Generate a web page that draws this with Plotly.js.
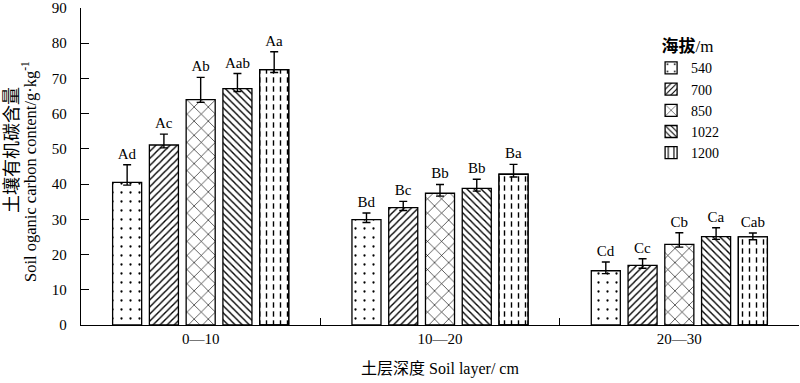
<!DOCTYPE html>
<html><head><meta charset="utf-8">
<script src="https://cdn.plot.ly/plotly-3.0.1.min.js"></script>
<style>body{margin:0;background:#fff}#c{width:800px;height:383px}</style>
</head><body><div id="c"></div>
<script>
const layers = ["0—10", "10—20", "20—30"];
const seriesNames = ["540", "700", "850", "1022", "1200"];
const vals540  = [40.5, 29.9, 15.4];
const vals700  = [51.1, 33.3, 16.9];
const vals850  = [64.0, 37.4, 22.9];
const vals1022 = [67.1, 38.8, 25.1];
const vals1200 = [72.5, 42.8, 25.0];
const err540  = [5.0, 1.9, 2.5];
const err700  = [3.1, 1.8, 1.9];
const err850  = [6.3, 2.5, 3.3];
const err1022 = [4.3, 2.6, 2.5];
const err1200 = [5.1, 2.8, 1.1];
const errMinus = [0.8, 0.8, 0.8];
const lab540  = ["Ad", "Bd", "Cd"];
const lab700  = ["Ac", "Bc", "Cc"];
const lab850  = ["Ab", "Bb", "Cb"];
const lab1022 = ["Aab", "Bb", "Ca"];
const lab1200 = ["Aa", "Ba", "Cab"];

const serif = "Liberation Serif, Times New Roman, Noto Sans CJK SC, serif";
const vals = [vals540, vals700, vals850, vals1022, vals1200];
const errs = [err540, err700, err850, err1022, err1200];
const labs = [lab540, lab700, lab850, lab1022, lab1200];
const patterns = [
  {shape: ".", size: 9, solidity: 0.05},
  {shape: "/", size: 5, solidity: 0.28},
  {shape: "x", size: 10, solidity: 0.12},
  {shape: "\\", size: 5, solidity: 0.28},
  {shape: "|", size: 7, solidity: 0.2}
];
const traces = [];
for (let i = 0; i < 5; i++) {
  traces.push({
    type: "bar", name: seriesNames[i], x: layers, y: vals[i],
    offsetgroup: "g" + i,
    marker: {color: "white", line: {color: "black", width: 1.3},
      pattern: Object.assign({fgcolor: "black", bgcolor: "white", fillmode: "replace"}, patterns[i])},
    error_y: i === 4 ? {visible: false} : {type: "data", symmetric: false, array: errs[i], arrayminus: errMinus,
      color: "black", thickness: 1.4, width: 4},
    hoverinfo: "skip"
  });
}
// white horizontal bands to turn the 1200 vertical lines into dashes
traces.push({
  type: "bar", x: layers, y: vals1200, offsetgroup: "g4", showlegend: false,
  marker: {color: "rgba(0,0,0,0)", line: {color: "black", width: 1.3},
    pattern: {shape: "-", size: 9, solidity: 0.4, fgcolor: "white", bgcolor: "rgba(0,0,0,0)", fillmode: "replace"}},
  error_y: {type: "data", symmetric: false, array: err1200, arrayminus: errMinus, color: "black", thickness: 1.4, width: 4},
  hoverinfo: "skip"
});
// invisible bars reaching the error-bar tops, carrying the letter labels
for (let i = 0; i < 5; i++) {
  traces.push({
    type: "bar", x: layers, y: vals[i].map((v, k) => v + errs[i][k]),
    offsetgroup: "g" + i, showlegend: false,
    marker: {color: "rgba(0,0,0,0)", line: {width: 0}},
    text: labs[i], textposition: "outside", constraintext: "none", cliponaxis: false,
    textfont: {family: serif, size: 15, color: "black"},
    hoverinfo: "skip"
  });
}

const layout = {
  width: 800, height: 383,
  margin: {l: 81, r: 1, t: 8, b: 58},
  paper_bgcolor: "white", plot_bgcolor: "white",
  barmode: "group", bargap: 0.232, bargroupgap: 0.21,
  font: {family: serif, size: 15, color: "black"},
  showlegend: true,
  legend: {x: 0.794, y: 0.93, xanchor: "left", yanchor: "top",
    font: {family: serif, size: 14, color: "black"},
    title: {text: "<b>海拔</b>/m", side: "top center", font: {family: serif, size: 17, color: "black"}},
    itemwidth: 30, tracegroupgap: 0, bgcolor: "rgba(0,0,0,0)"},
  xaxis: {type: "category", showline: true, linecolor: "black", linewidth: 1.2,
    ticks: "inside", tickson: "boundaries", ticklen: 7, tickcolor: "black", tickwidth: 1,
    tickfont: {family: serif, size: 15}, showgrid: false, zeroline: false,
    title: {text: "土层深度 Soil layer/ cm", font: {family: serif, size: 16}, standoff: 16}},
  yaxis: {range: [0, 90], dtick: 10, showline: true, linecolor: "black", linewidth: 1.2,
    ticks: "inside", ticklen: 8, tickcolor: "black", tickwidth: 1,
    tickfont: {family: serif, size: 15}, showgrid: false, zeroline: false,
    ticklabelstandoff: 10, ticklabeloverflow: "allow"},
  annotations: [
    {text: "土壤有机碳含量", xref: "paper", yref: "paper", x: (12 - 81) / 718, y: (325 - 150) / 317,
      xanchor: "center", yanchor: "middle", textangle: -90, showarrow: false,
      font: {family: serif, size: 18, color: "black"}},
    {text: "Soil oganic carbon content/g·kg<sup>-1</sup>", xref: "paper", yref: "paper", x: (29 - 81) / 718, y: (325 - 172) / 317,
      xanchor: "center", yanchor: "middle", textangle: -90, showarrow: false,
      font: {family: serif, size: 16.5, color: "black"}}
  ]
};
Plotly.newPlot("c", traces, layout, {displayModeBar: false, staticPlot: true});
</script></body></html>
